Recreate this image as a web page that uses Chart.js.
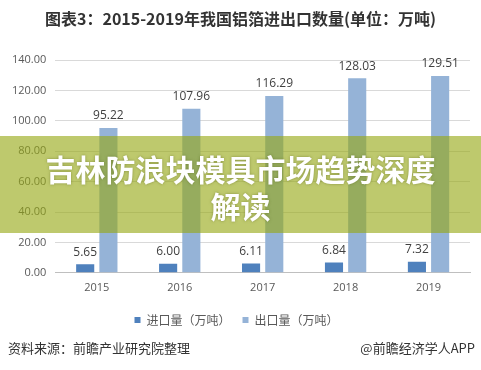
<!DOCTYPE html>
<html>
<head>
<meta charset="utf-8">
<script src="https://cdn.jsdelivr.net/npm/chart.js@4"></script>
<style>
  html, body { margin: 0; padding: 0; background: #fff; }
  #wrap { position: relative; width: 481px; height: 370px; overflow: hidden; font-family: "Noto Sans CJK SC", "Noto Sans", sans-serif; }
  #chart { position: absolute; left: 0; top: 0; }
  #title { position: absolute; left: 0; top: 6px; width: 481px; text-align: center; font-size: 16px; font-weight: bold; color: #333; }
  #banner { position: absolute; left: 0; top: 136px; width: 481px; height: 97px; background: rgba(150, 168, 20, 0.62); }
  #bannerText { position: absolute; left: 0; top: 150px; width: 481px; text-align: center; font-size: 30px; line-height: 37px; font-weight: bold; color: #fff; text-shadow: 0 0 3px rgba(80, 90, 20, 0.5); }
  .src { position: absolute; top: 338px; font-size: 13px; color: #333; }
</style>
</head>
<body>
<div id="wrap">
  <canvas id="chart" width="481" height="370"></canvas>
  <div id="title">图表3：2015-2019年我国铝箔进出口数量(单位：万吨)</div>
  <div id="banner"></div>
  <div id="bannerText">吉林防浪块模具市场趋势深度<br>解读</div>
  <div class="src" style="left:8px">资料来源：前瞻产业研究院整理</div>
  <div class="src" style="right:6px">@前瞻经济学人APP</div>
</div>
<script>
// chart data
const years = ['2015', '2016', '2017', '2018', '2019'];
const importQty = [5.65, 6.00, 6.11, 6.84, 7.32];
const exportQty = [95.22, 107.96, 116.29, 128.03, 129.51];
const seriesNames = ['进口量（万吨）', '出口量（万吨）'];

// --- value labels above bars ---
const valueLabels = {
    id: 'valueLabels',
    afterDatasetsDraw(chart) {
        const ctx = chart.ctx;
        ctx.save();
        ctx.font = '12px "Open Sans", "Noto Sans", sans-serif';
        ctx.fillStyle = '#404040';
        ctx.textAlign = 'center';
        ctx.textBaseline = 'bottom';
        chart.data.datasets.forEach((ds, i) => {
            chart.getDatasetMeta(i).data.forEach((bar, j) => {
                ctx.fillText(ds.data[j].toFixed(2), bar.x, bar.y - 6);
            });
        });
        ctx.restore();
    }
};

const ctx = document.getElementById('chart').getContext('2d');
new Chart(ctx, {
    type: 'bar',
    data: {
        labels: years,
        datasets: [{
            label: seriesNames[0],
            data: importQty,
            backgroundColor: '#4f81bd',
            barPercentage: 0.78,
            categoryPercentage: 0.56
        }, {
            label: seriesNames[1],
            data: exportQty,
            backgroundColor: '#95b3d7',
            barPercentage: 0.78,
            categoryPercentage: 0.56
        }]
    },
    options: {
        responsive: false,
        animation: false,
        layout: { padding: { top: 60, bottom: 34, left: 3, right: 11 } },
        scales: {
            x: {
                grid: { display: false, drawTicks: false },
                border: { color: '#bfbfbf' },
                ticks: {
                    color: '#595959',
                    padding: 8,
                    font: { size: 11, family: '"Open Sans", "Noto Sans", sans-serif' }
                }
            },
            y: {
                min: 0,
                max: 140,
                grid: { color: '#d9d9d9', drawTicks: false },
                border: { display: false },
                ticks: {
                    stepSize: 20,
                    padding: 9,
                    color: '#595959',
                    font: { size: 11, family: '"Open Sans", "Noto Sans", sans-serif' },
                    callback: (v) => v.toFixed(2)
                }
            }
        },
        plugins: {
            legend: {
                position: 'bottom',
                labels: {
                    boxWidth: 6,
                    boxHeight: 6,
                    padding: 12,
                    color: '#595959',
                    font: { size: 12, family: '"Noto Sans CJK SC", sans-serif' }
                }
            },
            tooltip: { enabled: false }
        }
    },
    plugins: [valueLabels]
});
</script>
</body>
</html>
